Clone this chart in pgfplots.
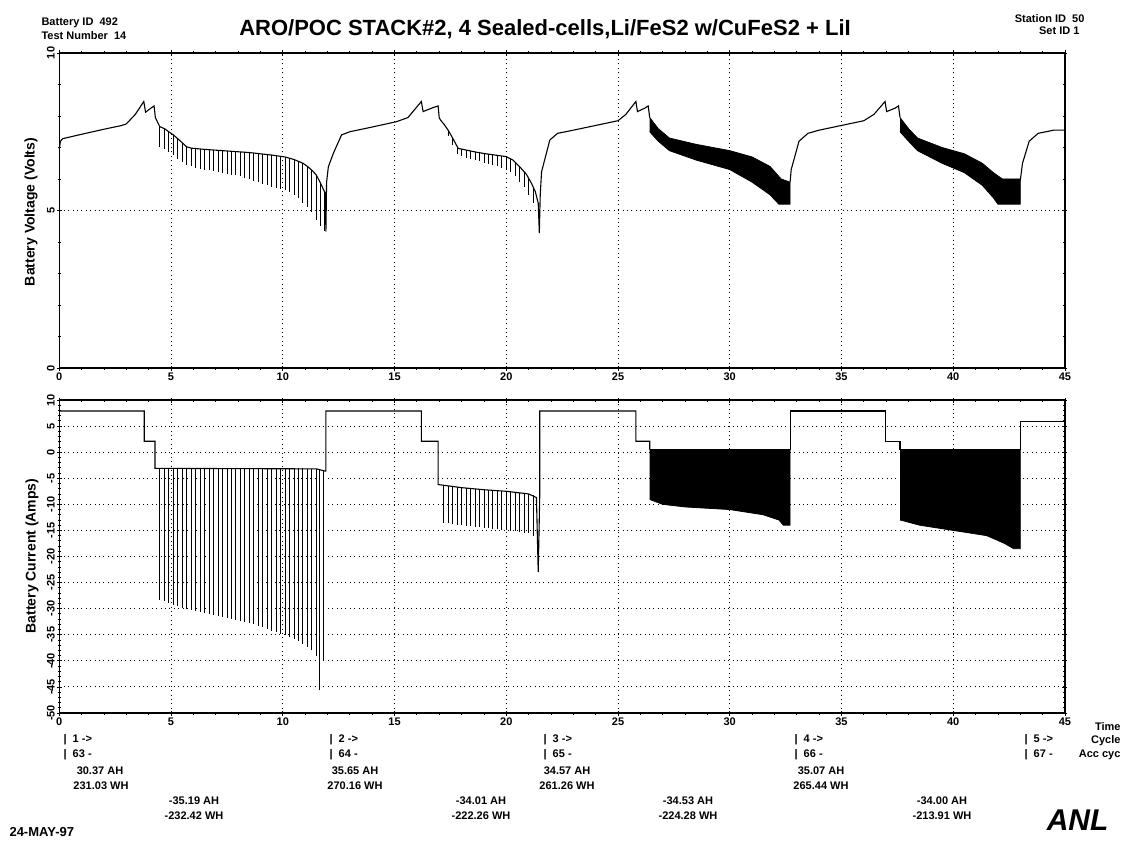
\documentclass[border=0pt]{standalone}
\usepackage{fontspec}
\setmainfont{Liberation Sans}
\usepackage{pgfplots}
\pgfplotsset{compat=1.18}
\usepackage{pgfplotstable}

% voltage pulses, cycle 1 and 2: time, top, bottom of pulse
\pgfplotstableread{
t top bot
4.5 7.66 7.03
4.7 7.60 6.95
4.9 7.50 6.85
5.1 7.40 6.75
5.3 7.28 6.65
5.5 7.15 6.55
5.7 7.02 6.45
5.9 6.98 6.40
6.1 6.96 6.35
6.3 6.95 6.32
6.5 6.94 6.30
6.7 6.93 6.27
6.9 6.92 6.25
7.1 6.91 6.22
7.3 6.90 6.20
7.5 6.89 6.17
7.7 6.88 6.14
7.9 6.87 6.12
8.1 6.86 6.08
8.3 6.85 6.04
8.5 6.84 6.00
8.7 6.82 5.95
8.9 6.81 5.90
9.1 6.79 5.85
9.3 6.77 5.80
9.5 6.76 5.76
9.7 6.74 5.72
9.9 6.72 5.68
10.1 6.70 5.64
10.3 6.66 5.58
10.5 6.62 5.50
10.7 6.57 5.40
10.9 6.50 5.25
11.1 6.40 5.10
11.3 6.28 4.95
11.5 6.13 4.70
11.7 5.85 4.50
11.85 5.62 4.35
17.4 7.55 7.35
17.6 7.30 7.08
17.8 7.02 6.80
18.0 6.95 6.72
18.2 6.92 6.68
18.4 6.89 6.64
18.6 6.86 6.60
18.8 6.83 6.56
19.0 6.81 6.52
19.2 6.79 6.48
19.4 6.77 6.45
19.6 6.75 6.40
19.8 6.73 6.35
20.0 6.71 6.30
20.2 6.65 6.22
20.4 6.55 6.10
20.6 6.39 5.92
20.8 6.23 5.75
21.0 6.00 5.50
21.2 5.75 5.25
}\pulsesV

% current pulses, cycle 1 and 2
\pgfplotstableread{
t top bot
4.5 -3.1 -28.3
4.7 -3.1 -28.6
4.9 -3.1 -29.0
5.1 -3.1 -29.3
5.3 -3.1 -29.5
5.5 -3.1 -29.8
5.7 -3.1 -30.0
5.9 -3.1 -30.2
6.1 -3.1 -30.4
6.3 -3.1 -30.6
6.5 -3.1 -30.8
6.7 -3.1 -31.0
6.9 -3.1 -31.2
7.1 -3.1 -31.4
7.3 -3.1 -31.6
7.5 -3.1 -31.8
7.7 -3.1 -32.0
7.9 -3.1 -32.2
8.1 -3.1 -32.4
8.3 -3.1 -32.6
8.5 -3.1 -32.8
8.7 -3.1 -33.0
8.9 -3.1 -33.3
9.1 -3.1 -33.6
9.3 -3.1 -33.9
9.5 -3.1 -34.2
9.7 -3.1 -34.5
9.9 -3.1 -34.8
10.1 -3.1 -35.1
10.3 -3.1 -35.4
10.5 -3.1 -35.8
10.7 -3.1 -36.2
10.9 -3.1 -36.7
11.1 -3.15 -37.3
11.3 -3.2 -38.0
11.5 -3.2 -39.0
11.65 -3.4 -45.5
11.8 -3.5 -40.0
17.2 -6.3 -13.5
17.4 -6.4 -13.6
17.6 -6.5 -13.8
17.8 -6.6 -13.9
18.0 -6.8 -14.0
18.2 -6.85 -14.1
18.4 -6.9 -14.2
18.6 -7.0 -14.3
18.8 -7.1 -14.4
19.0 -7.2 -14.5
19.2 -7.25 -14.6
19.4 -7.3 -14.7
19.6 -7.4 -14.8
19.8 -7.45 -14.9
20.0 -7.5 -15.0
20.2 -7.6 -15.1
20.4 -7.7 -15.2
20.6 -7.8 -15.3
20.8 -7.9 -15.4
21.0 -8.0 -15.5
21.2 -8.3 -16.0
}\pulsesI

\newcommand\sm{\fontsize{11}{11}\selectfont\bfseries}

\begin{document}
\begin{tikzpicture}
\path[use as bounding box] (0,0) rectangle (1127pt,-845pt);
\pgfplotsset{
  chart/.style={
    scale only axis, width=1005.7pt,
    xmin=0, xmax=45, xtick={0,5,...,45}, minor x tick num=4,
    axis line style={line width=1.4pt},
    tick align=center,
    tick style={black, line width=0.8pt},
    major tick length=5pt, minor tick length=3pt,
    xmajorgrids, ymajorgrids,
    major grid style={black, line width=0.9pt, dash pattern=on 0.9pt off 3.5pt},
    ticklabel style={font=\fontsize{11}{11}\selectfont\bfseries},
    /pgf/number format/assume math mode=true,
    xticklabel style={anchor=north, text height=8pt, text depth=0pt, inner sep=2pt},
    yticklabel style={rotate=90, anchor=south, text height=8pt, text depth=0pt, inner sep=2pt},
    clip=false,
  },
  pulses/.style={only marks, mark size=0pt,
    error bars/.cd, y dir=minus, y explicit, error mark=none,
    error bar style={draw=black, line width=0.8pt, solid}},
}

% ---- voltage ----
\begin{axis}[chart, at={(59.3pt,-368pt)}, anchor=south west, height=315pt,
  ymin=0, ymax=10, ytick={0,5,10}, minor y tick num=4]
\addplot[black, line width=1.1pt] coordinates {
 (0,6.95) (0.05,7.2) (0.15,7.28) (1,7.42) (2,7.58) (2.8,7.7) (3.0,7.75)
 (3.4,8.05) (3.78,8.46) (3.86,8.12) (4.1,8.25) (4.24,8.32) (4.3,7.95)
 (4.4,7.8) (4.5,7.66) (4.7,7.6) (4.9,7.5) (5.1,7.4) (5.3,7.28) (5.5,7.15)
 (5.7,7.02) (5.9,6.98) (6.5,6.94) (7.5,6.89) (8.5,6.84) (9.5,6.76)
 (10.1,6.70) (10.5,6.62) (10.9,6.5) (11.1,6.4) (11.3,6.28) (11.5,6.13)
 (11.7,5.85) (11.85,5.62) (11.9,5.55) (11.93,4.33) (11.96,5.9) (12.04,6.39)
 (12.26,6.81) (12.63,7.40) (13.0,7.50) (14,7.65) (15.09,7.82) (15.6,7.95)
 (16.2,8.46) (16.28,8.14) (16.7,8.26) (16.95,8.32) (17.0,7.95) (17.06,7.87)
 (17.2,7.75) (17.4,7.55) (17.6,7.3) (17.85,6.97) (18.2,6.92) (18.6,6.86)
 (19.0,6.81) (19.5,6.76) (20.0,6.71) (20.3,6.6) (20.6,6.39) (20.9,6.15)
 (21.13,5.86) (21.3,5.6) (21.43,5.23) (21.48,4.28) (21.52,5.5) (21.58,6.23)
 (21.95,7.24) (22.3,7.45) (23,7.55) (24,7.7) (25,7.85) (25.35,8.05)
 (25.8,8.46) (25.87,8.14) (26.2,8.25) (26.35,8.32) (26.42,7.95)
};
\addplot[black, fill=black, line width=0.8pt] coordinates {
 (26.42,7.95) (26.8,7.6) (27.3,7.3) (28.5,7.1) (30,6.9) (31,6.7) (31.8,6.4)
 (32.3,6.0) (32.7,5.9) (32.7,5.2) (32.2,5.2) (31.8,5.5) (31,5.9) (30,6.3)
 (28.5,6.6) (27.3,6.9) (26.8,7.2) (26.42,7.5)
};
\addplot[black, line width=1.1pt] coordinates {
 (32.7,5.9) (32.75,6.3) (33.1,7.2) (33.5,7.45) (34,7.55) (35,7.7) (36,7.85)
 (36.45,8.05) (36.95,8.46) (37.02,8.14) (37.4,8.25) (37.55,8.32) (37.62,7.95)
};
\addplot[black, fill=black, line width=0.8pt] coordinates {
 (37.62,7.95) (38.0,7.6) (38.4,7.3) (39.5,7.0) (40.5,6.8) (41.3,6.5) (41.8,6.2)
 (42.2,6.0) (43.0,6.0) (43.0,5.2) (42.0,5.2) (41.8,5.4) (41.3,5.8) (40.5,6.2)
 (39.5,6.5) (38.4,6.9) (38.0,7.2) (37.62,7.5)
};
\addplot[black, line width=1.1pt] coordinates {
 (43.0,5.95) (43.1,6.5) (43.4,7.2) (43.8,7.45) (44.5,7.55) (45,7.55)
};
\addplot[pulses] table[x=t, y=top, y error expr=\thisrow{top}-\thisrow{bot}] {\pulsesV};
\end{axis}

% ---- current ----
\begin{axis}[chart, at={(59.3pt,-713pt)}, anchor=south west, height=313pt,
  ymin=-50, ymax=10, ytick={-50,-45,...,10}, minor y tick num=4]
\addplot[black, line width=1.1pt] coordinates {
 (0,7.9) (3.8,7.9) (3.8,2.1) (4.28,2.1) (4.28,-3.1) (11.5,-3.2) (11.88,-3.6)
 (11.93,-3.6) (11.93,7.9) (16.2,7.9) (16.2,2.1) (16.95,2.1) (16.95,-6.2)
 (18,-6.8) (19,-7.2) (20,-7.5) (21,-8.0) (21.35,-8.7) (21.43,-23) (21.5,-8)
 (21.5,7.9) (25.8,7.9) (25.8,2.1) (26.42,2.1) (26.42,0.5)
};
\addplot[black, fill=black, line width=0.8pt] coordinates {
 (26.42,0.5) (32.7,0.5) (32.7,-14) (32.4,-14) (32.2,-13) (31.5,-12) (30,-11)
 (28,-10.5) (27,-10) (26.5,-9.2) (26.42,-9)
};
\addplot[black, line width=1.1pt] coordinates {
 (32.7,0.5) (32.7,7.9) (36.95,7.9) (36.95,2.1) (37.62,2.1) (37.62,0.5)
};
\addplot[black, fill=black, line width=0.8pt] coordinates {
 (37.62,0.5) (43.0,0.5) (43.0,-18.5) (42.7,-18.5) (42.3,-17.5) (41.5,-16)
 (40,-15) (38.5,-14) (37.8,-13.2) (37.62,-13)
};
\addplot[black, line width=1.1pt] coordinates {
 (43.0,0.5) (43.0,5.8) (45,5.8)
};
\addplot[pulses] table[x=t, y=top, y error expr=\thisrow{top}-\thisrow{bot}] {\pulsesI};
\end{axis}

% ---- header ----
\node[font=\sm, anchor=west] at (38pt,-23pt) {Battery ID\ \ 492};
\node[font=\sm, anchor=west] at (38pt,-36pt) {Test Number\ \ 14};
\node[font=\fontsize{22}{22}\selectfont\bfseries] at (545pt,-29pt)
  {ARO/POC STACK\#2, 4 Sealed-cells,Li/FeS2 w/CuFeS2 + LiI};
\node[font=\sm, anchor=east] at (1088pt,-19pt) {Station ID\ \ 50};
\node[font=\sm, anchor=east] at (1083pt,-31pt) {Set ID 1};

% ---- axis titles ----
\node[font=\fontsize{14}{14}\selectfont\bfseries, rotate=90] at (31pt,-212pt) {Battery Voltage (Volts)};
\node[font=\fontsize{14}{14}\selectfont\bfseries, rotate=90] at (32pt,-556pt) {Battery Current (Amps)};

% ---- cycle notes ----
\begin{scope}[every node/.style={font=\sm}]
\node[anchor=west] at (60pt,-740pt) {|\ \ 1 ->};
\node[anchor=west] at (60pt,-755pt) {|\ \ 63 -};
\node at (100pt,-771pt) {30.37 AH};
\node at (101pt,-786pt) {231.03 WH};
\node[anchor=west] at (326pt,-740pt) {|\ \ 2 ->};
\node[anchor=west] at (326pt,-755pt) {|\ \ 64 -};
\node at (355pt,-771pt) {35.65 AH};
\node at (355pt,-786pt) {270.16 WH};
\node[anchor=west] at (540pt,-740pt) {|\ \ 3 ->};
\node[anchor=west] at (540pt,-755pt) {|\ \ 65 -};
\node at (567pt,-771pt) {34.57 AH};
\node at (567pt,-786pt) {261.26 WH};
\node[anchor=west] at (791pt,-740pt) {|\ \ 4 ->};
\node[anchor=west] at (791pt,-755pt) {|\ \ 66 -};
\node at (821pt,-771pt) {35.07 AH};
\node at (821pt,-786pt) {265.44 WH};
\node[anchor=west] at (1021pt,-740pt) {|\ \ 5 ->};
\node[anchor=west] at (1021pt,-755pt) {|\ \ 67 -};
\node[anchor=east] at (1124pt,-727pt) {Time};
\node[anchor=east] at (1124pt,-741pt) {Cycle};
\node[anchor=east] at (1124pt,-755pt) {Acc cyc};
\node at (194pt,-801pt) {-35.19 AH};
\node at (194pt,-816pt) {-232.42 WH};
\node at (481pt,-801pt) {-34.01 AH};
\node at (481pt,-816pt) {-222.26 WH};
\node at (688pt,-801pt) {-34.53 AH};
\node at (688pt,-816pt) {-224.28 WH};
\node at (942pt,-801pt) {-34.00 AH};
\node at (942pt,-816pt) {-213.91 WH};
\end{scope}
\node[font=\fontsize{13}{13}\selectfont\bfseries, anchor=west] at (6pt,-832pt) {24-MAY-97};
\node[font=\fontsize{30}{30}\selectfont\bfseries\itshape, anchor=east] at (1112pt,-820pt) {ANL};
\end{tikzpicture}
\end{document}
